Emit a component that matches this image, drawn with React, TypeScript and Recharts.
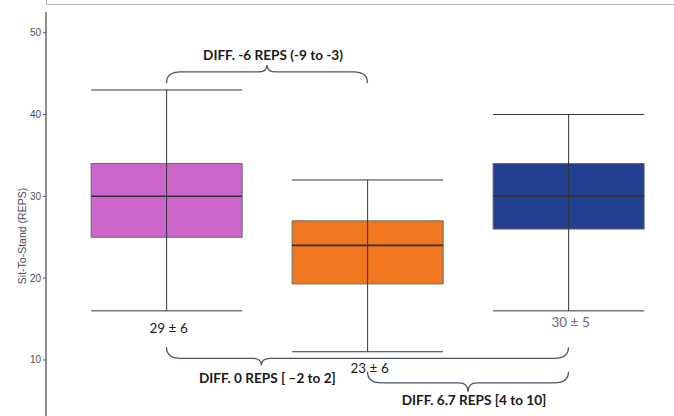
import { Bar, Cell, ComposedChart, ReferenceLine, XAxis, YAxis } from "recharts"

const groups = ["Group 1", "Group 2", "Group 3"]
const mins = [16, 11, 16]
const q1s = [25, 19.3, 26]
const medians = [30, 24, 30]
const q3s = [34, 27, 34]
const maxs = [43, 32, 40]
const summaries = ["29 ± 6", "23 ± 6", "30 ± 5"]
const yTicks = [10, 20, 30, 40, 50]

const fills = ["#CC66CC", "#F07620", "#233F8F"]
const summaryColors = ["#1a1a1a", "#1a1a1a", "#6b6b6b"]
const summaryDy = [17, 16, 11]

// comparison braces: from/to category, level of the flat part (in reps)
const braces = [
  { from: "Group 1", to: "Group 2", level: 45.2, up: true, tip: 0.5, depth: 11, tipLen: 7, textDy: -10, text: "DIFF. -6 REPS (-9 to -3)" },
  { from: "Group 1", to: "Group 3", level: 10.2, up: false, tip: 0.236, depth: 11, tipLen: 7, textDy: 13, text: "DIFF. 0 REPS [ \u20132 to 2]" },
  { from: "Group 2", to: "Group 3", level: 7.2, up: false, tip: 0.5, depth: 11, tipLen: 9, textDy: 8, text: "DIFF. 6.7 REPS [4 to 10]" },
]

const data = groups.map((name, i) => ({
  name,
  min: mins[i],
  q1: q1s[i],
  median: medians[i],
  q3: q3s[i],
  max: maxs[i],
  base: q1s[i],
  iqr: q3s[i] - q1s[i],
  summary: summaries[i],
}))

const annoFont = "Lato, 'Open Sans', sans-serif"

function BoxShape(props: any) {
  const { x, y, width, height, payload, index } = props
  const k = height / (payload.q3 - payload.q1)
  const yOf = (v: number) => y + (payload.q3 - v) * k
  const cx = x + width / 2
  return (
    <g>
      <rect x={x} y={y} width={width} height={height} fill={fills[index]} stroke="#666" strokeWidth={1} />
      <line x1={x} x2={x + width} y1={yOf(payload.median)} y2={yOf(payload.median)} stroke="#333" strokeWidth={1.6} />
      <line x1={cx} x2={cx} y1={yOf(payload.max)} y2={yOf(payload.min)} stroke="#333" strokeWidth={1} />
      <line x1={x} x2={x + width} y1={yOf(payload.max)} y2={yOf(payload.max)} stroke="#333" strokeWidth={1} />
      <line x1={x} x2={x + width} y1={yOf(payload.min)} y2={yOf(payload.min)} stroke="#333" strokeWidth={1} />
      <text
        x={cx + 2}
        y={yOf(payload.min) + summaryDy[index]}
        textAnchor="middle"
        dominantBaseline="central"
        fontFamily={annoFont}
        fontSize={13.5}
        fill={summaryColors[index]}
      >
        {payload.summary}
      </text>
    </g>
  )
}

function Brace(props: any) {
  const { x1, x2, y1, cfg } = props
  const s = cfg.up ? -1 : 1
  const yF = y1
  const tx = x1 + (x2 - x1) * cfg.tip
  const r = 14
  const r2 = 9
  const d = [
    `M ${x1} ${yF - s * cfg.depth}`,
    `Q ${x1} ${yF} ${x1 + r} ${yF}`,
    `L ${tx - r2} ${yF}`,
    `Q ${tx} ${yF} ${tx} ${yF + s * cfg.tipLen}`,
    `Q ${tx} ${yF} ${tx + r2} ${yF}`,
    `L ${x2 - r} ${yF}`,
    `Q ${x2} ${yF} ${x2} ${yF - s * cfg.depth}`,
  ].join(" ")
  return (
    <g>
      <path d={d} fill="none" stroke="#4a5466" strokeWidth={1.3} />
      <text
        x={tx + 6}
        y={yF + s * cfg.tipLen + cfg.textDy}
        textAnchor="middle"
        dominantBaseline="central"
        fontFamily={annoFont}
        fontWeight="bold"
        fontSize={13.6}
        fill="#1a1a1a"
      >
        {cfg.text}
      </text>
    </g>
  )
}

function YLabel(props: any) {
  const vb = props.viewBox
  const cy = vb.y + vb.height / 2
  return (
    <text
      x={22}
      y={cy}
      transform={`rotate(-90 22 ${cy})`}
      textAnchor="middle"
      dominantBaseline="central"
      fontFamily="'Liberation Sans', Arial, sans-serif"
      fontSize={10.5}
      fill="#4d4d4d"
    >
      Sit-To-Stand (REPS)
    </text>
  )
}

export default function App() {
  return (
    <div style={{ position: "absolute", left: 0, top: 0, width: 674, height: 416, overflow: "hidden", background: "#fff" }}>
      <div
        style={{
          position: "absolute",
          left: 46,
          top: -2,
          width: 640,
          height: 6,
          borderLeft: "1px solid #b5b5b5",
          borderBottom: "1px solid #b5b5b5",
        }}
      />
      <ComposedChart
        width={689}
        height={460}
        data={data}
        margin={{ top: 12, right: 0, bottom: 0, left: 0 }}
        barCategoryGap="12.5%"
      >
        <XAxis dataKey="name" hide padding={{ left: 20, right: 20 }} />
        <YAxis
          width={46}
          domain={[-2.23, 52.53]}
          ticks={yTicks}
          allowDataOverflow
          tickSize={3}
          tickMargin={2}
          axisLine={{ stroke: "#555", strokeWidth: 1.3 }}
          tickLine={{ stroke: "#555" }}
          tick={{ fill: "#4d4d4d", fontSize: 10, fontFamily: "'Liberation Sans', Arial, sans-serif" }}
          label={{ content: YLabel }}
        />
        <Bar dataKey="base" stackId="box" fill="transparent" isAnimationActive={false} />
        <Bar dataKey="iqr" stackId="box" shape={BoxShape} isAnimationActive={false}>
          {data.map((_, i) => (
            <Cell key={i} fill={fills[i]} />
          ))}
        </Bar>
        {braces.map((b, i) => (
          <ReferenceLine
            key={i}
            segment={[
              { x: b.from, y: b.level },
              { x: b.to, y: b.level },
            ]}
            ifOverflow="visible"
            shape={(p: any) => <Brace {...p} cfg={b} />}
          />
        ))}
      </ComposedChart>
    </div>
  )
}
